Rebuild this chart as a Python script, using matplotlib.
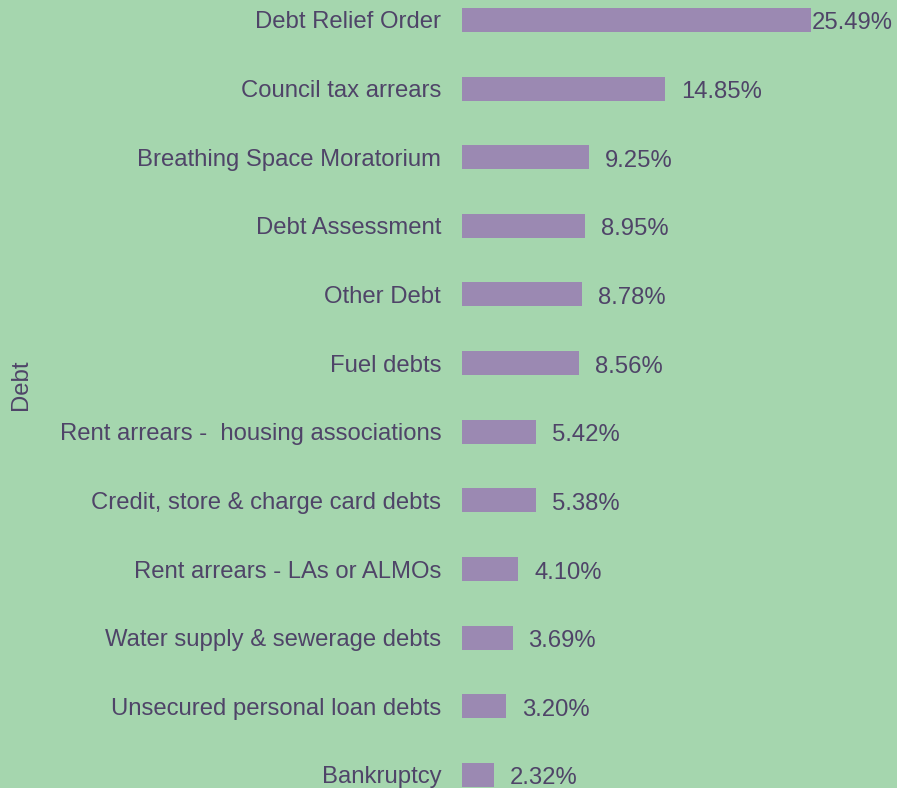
import matplotlib.pyplot as plt

debts = ["Debt Relief Order", "Council tax arrears", "Breathing Space Moratorium",
         "Debt Assessment", "Other Debt", "Fuel debts",
         "Rent arrears -  housing associations", "Credit, store & charge card debts",
         "Rent arrears - LAs or ALMOs", "Water supply & sewerage debts",
         "Unsecured personal loan debts", "Bankruptcy"]
shares = [25.49, 14.85, 9.25, 8.95, 8.78, 8.56, 5.42, 5.38, 4.10, 3.69, 3.20, 2.32]

bg = "#a5d6ae"
bar_col = "#9b89b2"
txt = "#4f4468"

plt.rcParams["font.family"] = ["Liberation Sans", "DejaVu Sans"]

fig = plt.figure(figsize=(8.97, 7.88), dpi=100, facecolor=bg)
ax = fig.add_axes([462 / 897, 0, (811 - 462) / 897, 1])
ax.set_facecolor(bg)

pos = list(range(len(debts)))
ax.barh(pos, shares, height=0.35, color=bar_col)

# value labels after each bar; the biggest one sits tight against its bar
for i, v in enumerate(shares):
    off = 1 if v == max(shares) else 16
    ax.annotate(f"{v:.2f}%", (v, i), xytext=(off, -1), textcoords="offset pixels",
                va="center_baseline", ha="left", fontsize=17.2, color=txt,
                annotation_clip=False)

ax.set_xlim(0, max(shares))
ax.set_ylim(11.19, -0.29)
ax.set_yticks(pos)
ax.set_yticklabels(debts, fontsize=17.2, color=txt)
ax.tick_params(axis="y", length=0, pad=15)
ax.set_xticks([])
for s in ax.spines.values():
    s.set_visible(False)

fig.text(21 / 897, 0.512, "Debt", rotation=90, ha="center", va="center",
         fontsize=17.2, color=txt)

fig.savefig("out.png", dpi=100, facecolor=bg)
